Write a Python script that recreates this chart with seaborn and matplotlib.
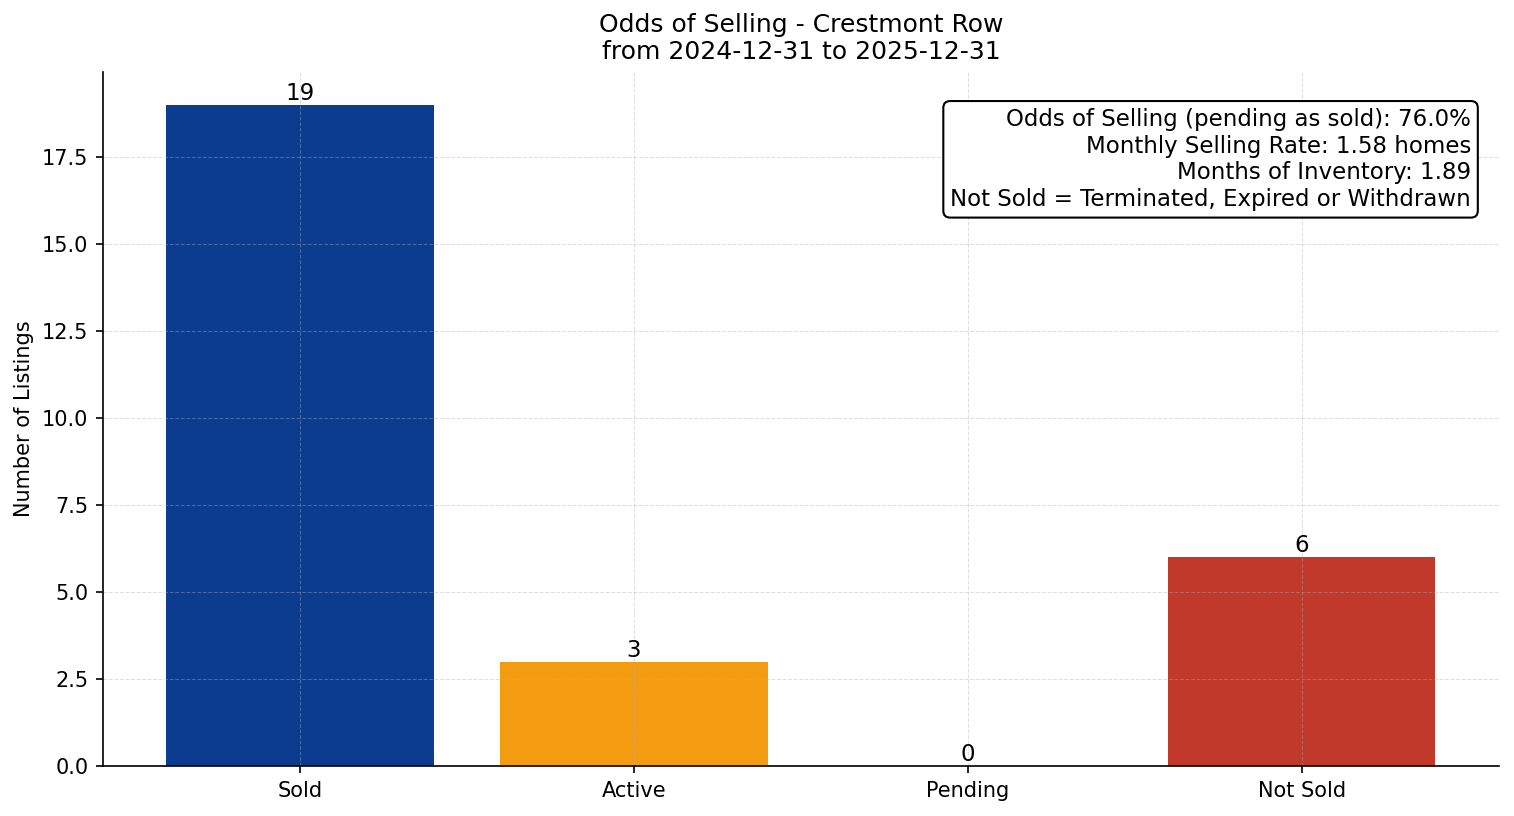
import pandas as pd
import matplotlib
matplotlib.use("Agg")
import matplotlib.pyplot as plt
import seaborn as sns

# data
statuses = ["Sold", "Active", "Pending", "Not Sold"]
counts = [19, 3, 0, 6]
bar_colors = ["#0b3c8f", "#f39c12", "#27ae60", "#c0392b"]

odds_selling = 76.0
monthly_rate = 1.58
months_inventory = 1.89
start_date = "2024-12-31"
end_date = "2025-12-31"
area = "Crestmont Row"


def plot_odds_of_selling(df: pd.DataFrame, output_path="out.png"):
    fig, ax = plt.subplots(figsize=(1514 / 150, 816 / 150), dpi=150)
    fig.subplots_adjust(left=0.068, right=0.990, top=0.912, bottom=0.061)

    sns.barplot(data=df, x="status", y="count", hue="status",
                palette=dict(zip(statuses, bar_colors)), saturation=1,
                width=0.8, legend=False, ax=ax)
    ax.set_xlim(-0.59, len(statuses) - 1 + 0.59)

    for container in ax.containers:
        ax.bar_label(container, fontsize=11)

    ax.grid(True, linestyle="--", alpha=0.4, linewidth=0.5)
    sns.despine(ax=ax)
    ax.set_xlabel("")
    ax.set_ylabel("Number of Listings")
    ax.set_title(f"Odds of Selling - {area}\nfrom {start_date} to {end_date}", fontsize=12)

    info = (f"Odds of Selling (pending as sold): {odds_selling:.1f}%\n"
            f"Monthly Selling Rate: {monthly_rate:.2f} homes\n"
            f"Months of Inventory: {months_inventory:.2f}\n"
            "Not Sold = Terminated, Expired or Withdrawn")
    ax.text(0.98, 0.948, info, transform=ax.transAxes, ha="right", va="top",
            fontsize=11,
            bbox=dict(boxstyle="round", facecolor="white", edgecolor="black"))

    fig.savefig(output_path, dpi=150)
    plt.close(fig)


df = pd.DataFrame({"status": statuses, "count": counts})
plot_odds_of_selling(df)
